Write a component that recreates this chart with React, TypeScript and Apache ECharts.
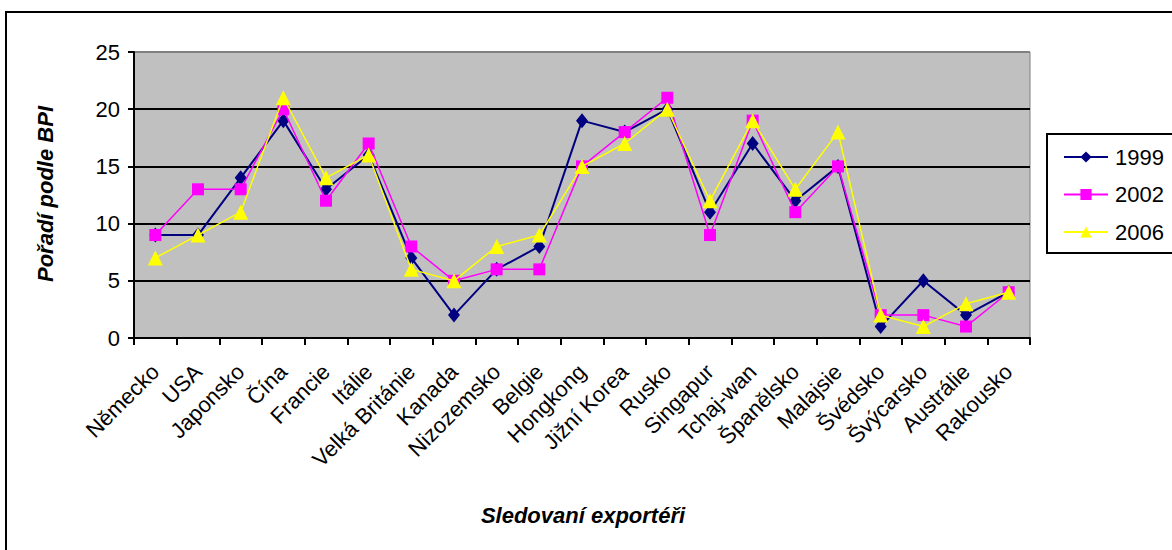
import React, { useEffect, useRef } from "react";
import * as echarts from "echarts";

const countries = [
  "Německo", "USA", "Japonsko", "Čína", "Francie", "Itálie", "Velká Británie",
  "Kanada", "Nizozemsko", "Belgie", "Hongkong", "Jižní Korea", "Rusko",
  "Singapur", "Tchaj-wan", "Španělsko", "Malajsie", "Švédsko", "Švýcarsko",
  "Austrálie", "Rakousko",
];
const years = ["1999", "2002", "2006"];
const rank1999 = [9, 9, 14, 19, 13, 16, 7, 2, 6, 8, 19, 18, 20, 11, 17, 12, 15, 1, 5, 2, 4];
const rank2002 = [9, 13, 13, 20, 12, 17, 8, 5, 6, 6, 15, 18, 21, 9, 19, 11, 15, 2, 2, 1, 4];
const rank2006 = [7, 9, 11, 21, 14, 16, 6, 5, 8, 9, 15, 17, 20, 12, 19, 13, 18, 2, 1, 3, 4];
const yTicks = [0, 5, 10, 15, 20, 25];

const FONT = "Arial, 'Liberation Sans', sans-serif";

export default function App() {
  const ref = useRef<HTMLDivElement>(null);
  useEffect(() => {
    if (!ref.current) return;
    const chart = echarts.init(ref.current, undefined, { renderer: "svg" });
    const seriesData = [rank1999, rank2002, rank2006];
    const colors = ["#000080", "#FF00FF", "#FFFF00"];
    const symbols = ["diamond", "rect", "triangle"];
    const symbolSizes = [[12, 15], 12, 15];
    const widths = [2, 1.5, 1.5];
    chart.setOption({
      animation: false,
      backgroundColor: "#ffffff",
      textStyle: { fontFamily: FONT },
      grid: {
        left: 134,
        right: 142,
        top: 52,
        bottom: 212,
        show: true,
        backgroundColor: "#C0C0C0",
        borderColor: "#808080",
        borderWidth: 1,
      },
      legend: {
        orient: "vertical",
        left: 1058,
        top: 140,
        itemWidth: 44,
        itemHeight: 14,
        itemGap: 13.5,
        data: years,
        textStyle: { fontSize: 22, lineHeight: 24, color: "#000", fontFamily: FONT, padding: [0, 0, 0, 2] },
      },
      graphic: [
        {
          type: "rect",
          shape: { x: 6, y: 12, width: 1200, height: 600 },
          style: { fill: "none", stroke: "#000", lineWidth: 2 },
          silent: true,
        },
        {
          type: "rect",
          shape: { x: 1047, y: 134, width: 200, height: 119 },
          style: { fill: "none", stroke: "#000", lineWidth: 2 },
          silent: true,
        },
        {
          type: "text",
          x: 45,
          y: 194,
          rotation: Math.PI / 2,
          style: {
            text: "Pořadí podle BPI",
            font: "italic bold 22px " + FONT,
            fill: "#000",
            align: "center",
            verticalAlign: "middle",
          },
        },
        {
          type: "text",
          x: 583,
          y: 515,
          style: {
            text: "Sledovaní exportéři",
            font: "italic bold 22px " + FONT,
            fill: "#000",
            align: "center",
            verticalAlign: "middle",
          },
        },
      ],
      xAxis: {
        type: "category",
        data: countries,
        boundaryGap: true,
        axisLine: { lineStyle: { color: "#000", width: 2 } },
        axisTick: { show: true, length: 7, lineStyle: { color: "#000", width: 2 } },
        axisLabel: {
          interval: 0,
          rotate: 45,
          margin: 30,
          fontSize: 22,
          color: "#000",
          fontFamily: FONT,
        },
        splitLine: { show: false },
      },
      yAxis: {
        type: "value",
        min: 0,
        max: 25,
        interval: 5,
        axisLine: { show: true, lineStyle: { color: "#000", width: 2 } },
        axisTick: { show: true, length: 6, lineStyle: { color: "#000", width: 2 } },
        axisLabel: {
          fontSize: 22,
          color: "#000",
          margin: 14,
          fontFamily: FONT,
          formatter: (v: number) => (yTicks.includes(v) ? String(v) : ""),
        },
        splitLine: {
          show: true,
          lineStyle: { color: ["#000", "#000", "#000", "#000", "#000", "#808080"], width: 2 },
        },
      },
      series: years.map((y, i) => ({
        name: y,
        type: "line",
        data: seriesData[i],
        symbol: symbols[i],
        symbolSize: symbolSizes[i],
        itemStyle: { color: colors[i] },
        lineStyle: { color: colors[i], width: widths[i] },
        z: 2 + i,
      })),
    });
    return () => chart.dispose();
  }, []);
  return (
    <div
      ref={ref}
      style={{ position: "fixed", left: 0, top: 0, width: 1172, height: 550 }}
    />
  );
}
